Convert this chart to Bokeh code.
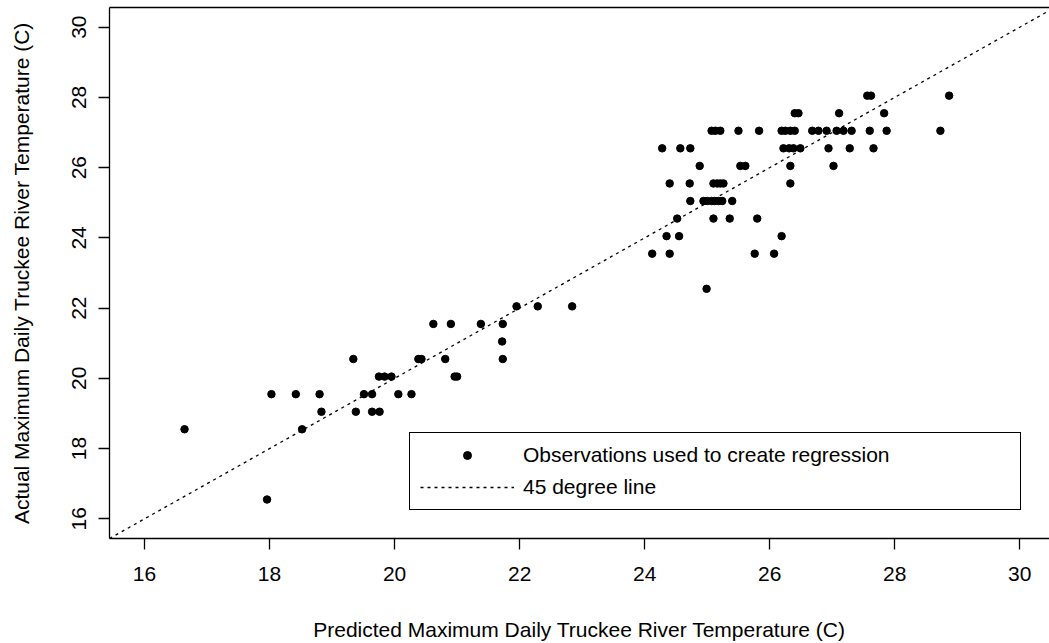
from bokeh.plotting import figure
from bokeh.models import (Range1d, LinearAxis, FixedTicker, Legend, LegendItem)
from bokeh.embed import file_html
from bokeh.resources import INLINE

# Predicted vs. actual maximum daily river temperature (deg C)
predicted = [
    # cooler days
    16.64, 17.96, 18.03, 18.42, 18.52, 18.80, 18.83, 19.34, 19.38, 19.51,
    19.64, 19.64, 19.76, 19.75, 19.84, 19.95, 20.06, 20.27, 20.38, 20.43,
    20.81, 20.62, 20.90, 21.38, 21.73, 21.72, 21.73, 20.96, 21.00, 21.95,
    22.29, 22.84,
    # warmer days
    24.12, 24.40, 25.76, 26.07,
    24.99,
    24.35, 24.55, 26.19,
    24.52, 25.10, 25.36, 25.80,
    24.73, 24.94, 25.00, 25.07, 25.12, 25.18, 25.24, 25.40,
    24.40, 24.72, 25.10, 25.16, 25.21, 25.26, 26.33,
    24.88, 25.53, 25.61, 26.33, 27.02,
    24.28, 24.57, 24.73, 26.22, 26.31, 26.38, 26.49, 26.94, 27.28, 27.66,
    25.07, 25.13, 25.21, 25.50, 25.83, 26.19, 26.25, 26.33, 26.40, 26.68,
    26.78, 26.91, 27.07, 27.18, 27.31, 27.60, 27.87, 28.73,
    26.40, 26.46, 27.11, 27.83,
    27.56, 27.62, 28.87,
]
actual = [
    18.55, 16.55, 19.55, 19.55, 18.55, 19.55, 19.05, 20.55, 19.05, 19.55,
    19.55, 19.05, 19.05, 20.05, 20.05, 20.05, 19.55, 19.55, 20.55, 20.55,
    20.55, 21.55, 21.55, 21.55, 21.55, 21.05, 20.55, 20.05, 20.05, 22.05,
    22.05, 22.05,
    23.55, 23.55, 23.55, 23.55,
    22.55,
    24.05, 24.05, 24.05,
    24.55, 24.55, 24.55, 24.55,
    25.05, 25.05, 25.05, 25.05, 25.05, 25.05, 25.05, 25.05,
    25.55, 25.55, 25.55, 25.55, 25.55, 25.55, 25.55,
    26.05, 26.05, 26.05, 26.05, 26.05,
    26.55, 26.55, 26.55, 26.55, 26.55, 26.55, 26.55, 26.55, 26.55, 26.55,
    27.05, 27.05, 27.05, 27.05, 27.05, 27.05, 27.05, 27.05, 27.05, 27.05,
    27.05, 27.05, 27.05, 27.05, 27.05, 27.05, 27.05, 27.05,
    27.55, 27.55, 27.55, 27.55,
    28.05, 28.05, 28.05,
]

x_ticks = [16, 18, 20, 22, 24, 26, 28, 30]
y_ticks = [16, 18, 20, 22, 24, 26, 28, 30]
x_lo, x_hi = 15.44, 30.475
y_lo, y_hi = 15.44, 30.56

FONT = "Liberation Sans"
FS = "21px"

p = figure(width=1049, height=643, output_backend="svg", toolbar_location=None,
           x_range=Range1d(x_lo, x_hi), y_range=Range1d(y_lo, y_hi),
           min_border_left=109, min_border_right=0, min_border_top=7,
           min_border_bottom=104, x_axis_label="Predicted Maximum Daily Truckee River Temperature (C)",
           y_axis_label="Actual Maximum Daily Truckee River Temperature (C)")
p.outline_line_color = None
p.xgrid.visible = False
p.ygrid.visible = False
p.background_fill_color = "white"
p.border_fill_color = "white"

for ax, ticks in ((p.xaxis[0], x_ticks), (p.yaxis[0], y_ticks)):
    ax.ticker = FixedTicker(ticks=ticks)
    ax.minor_tick_line_color = None
    ax.major_tick_in = 0
    ax.major_tick_out = 11
    ax.major_tick_line_color = "black"
    ax.axis_line_color = "black"
    ax.axis_line_width = 1.3
    ax.major_tick_line_width = 1.3
    ax.major_label_text_font = FONT
    ax.major_label_text_font_size = FS
    ax.major_label_text_color = "black"
    ax.axis_label_text_font = FONT
    ax.axis_label_text_font_size = FS
    ax.axis_label_text_font_style = "normal"
    ax.axis_label_text_color = "black"

p.xaxis.major_label_standoff = 17
p.xaxis.axis_label_standoff = 34
p.yaxis.major_label_orientation = "vertical"
p.yaxis.major_label_standoff = 12
p.yaxis.axis_label_standoff = 37

# top edge of the box
top = LinearAxis(ticker=FixedTicker(ticks=[]), major_tick_out=0, major_tick_in=0,
                 minor_tick_out=0, minor_tick_in=0, major_label_text_font_size="0px",
                 axis_line_color="black", axis_line_width=1.3)
p.add_layout(top, "above")

diag = p.line(x=[x_lo, y_hi], y=[x_lo, y_hi], line_color="black", line_width=1.3,
              line_dash="3 4")
pts = p.scatter(x=predicted, y=actual, size=7.5, color="black", marker="circle")

legend = Legend(items=[
    LegendItem(label="Observations used to create regression", renderers=[pts]),
    LegendItem(label="45 degree line", renderers=[diag]),
], location=(300, 28), padding=10, spacing=8, glyph_width=94, glyph_height=20,
   label_standoff=9, label_width=487, label_text_font=FONT, label_text_font_size=FS,
   label_text_color="black",
   border_line_color="black", border_line_alpha=1.0, border_line_width=1.2,
   background_fill_color="white", background_fill_alpha=1.0, margin=0)
p.add_layout(legend)

open("out.html", "w").write(file_html(p, INLINE))
